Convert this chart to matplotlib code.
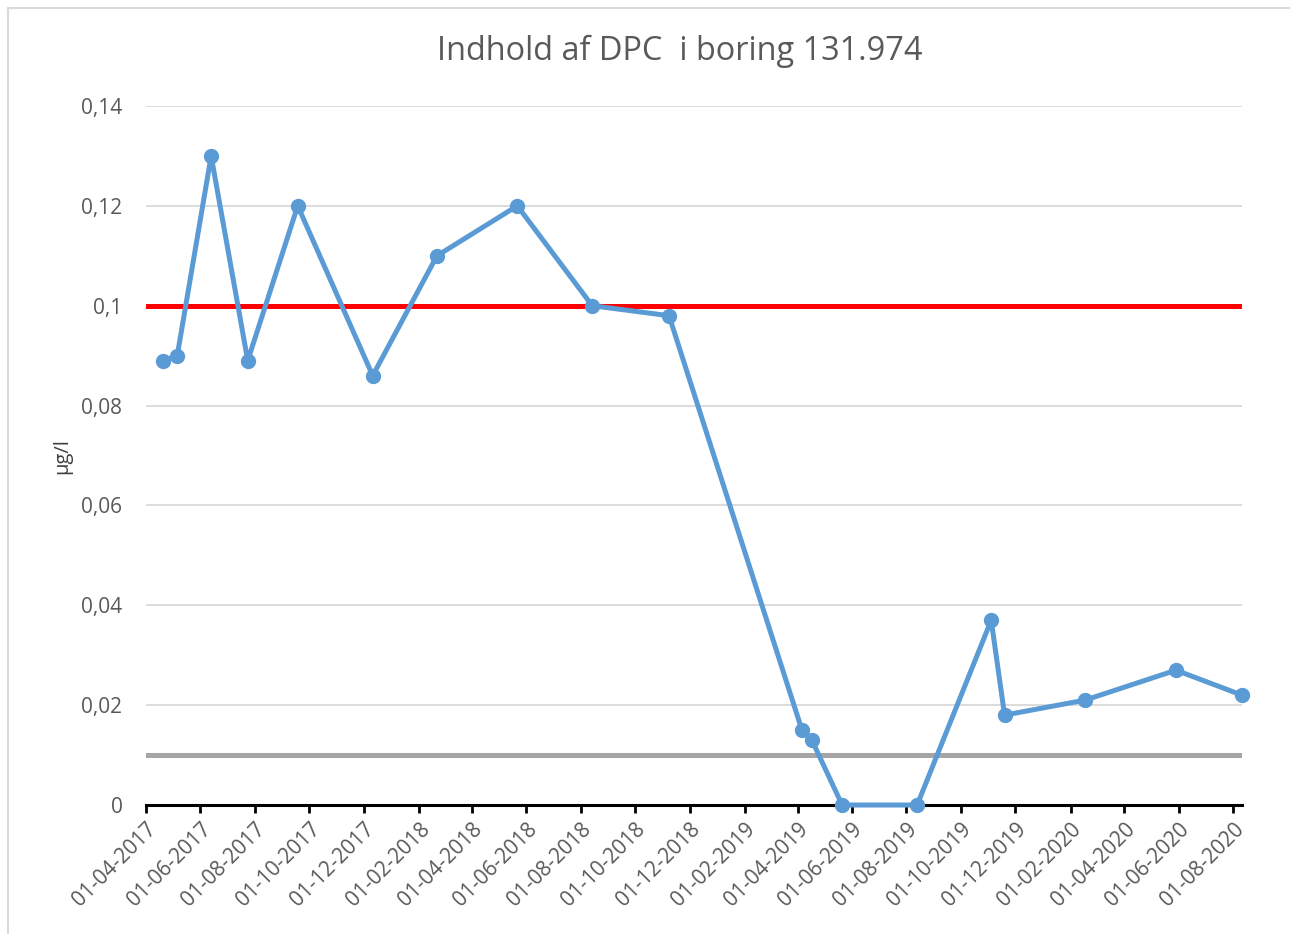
import matplotlib
matplotlib.use("Agg")
import matplotlib.pyplot as plt
import matplotlib.dates as mdates
import matplotlib.lines
import numpy as np
from datetime import date

# måledatoer og indhold (µg/l)
datoer = [date(2017, 4, 20), date(2017, 5, 6), date(2017, 6, 13), date(2017, 7, 24),
          date(2017, 9, 18), date(2017, 12, 11), date(2018, 2, 21), date(2018, 5, 22),
          date(2018, 8, 14), date(2018, 11, 8), date(2019, 4, 6), date(2019, 4, 17),
          date(2019, 5, 21), date(2019, 8, 13), date(2019, 11, 4), date(2019, 11, 19),
          date(2020, 2, 17), date(2020, 5, 29), date(2020, 8, 11)]
indhold = [0.089, 0.09, 0.13, 0.089, 0.12, 0.086, 0.11, 0.12, 0.1, 0.098,
           0.015, 0.013, 0.0, 0.0, 0.037, 0.018, 0.021, 0.027, 0.022]

graensevaerdi = 0.1
detektionsgraense = 0.01

x_start = date(2017, 4, 1)
x_slut = date(2020, 8, 11)

plt.rcParams['font.family'] = ['Open Sans', 'DejaVu Sans']

fig = plt.figure(figsize=(12.9, 9.34), dpi=100)
ax = fig.add_axes([146 / 1290, 1 - 805 / 934, (1242 - 146) / 1290, (805 - 106) / 934])

# ramme om diagrammet (kun venstre og top er synlige)
x0 = 7.5 / 1290
y0 = 1 - 7.5 / 934
fig.lines.append(matplotlib.lines.Line2D([x0, x0], [0, y0], transform=fig.transFigure,
                                         color='#d9d9d9', linewidth=1.5))
fig.lines.append(matplotlib.lines.Line2D([x0, 1], [y0, y0], transform=fig.transFigure,
                                         color='#d9d9d9', linewidth=1.5))

ax.axhline(graensevaerdi, color='#ff0000', linewidth=3.6, zorder=2)
ax.axhline(detektionsgraense, color='#a5a5a5', linewidth=3.6, zorder=2)
ax.plot(datoer, indhold, color='#5b9bd5', linewidth=3.6, marker='o',
        markersize=10, zorder=3, clip_on=False)

ax.set_xlim(x_start, x_slut)
ax.set_ylim(0, 0.14)
ax.set_yticks(np.arange(0, 0.141, 0.02))
ax.set_yticklabels(['0', '0,02', '0,04', '0,06', '0,08', '0,1', '0,12', '0,14'])
ax.yaxis.grid(True, color='#d9d9d9', linewidth=1.3)
ax.set_axisbelow(True)

ax.xaxis.set_major_locator(mdates.MonthLocator(bymonth=[2, 4, 6, 8, 10, 12]))
ax.xaxis.set_major_formatter(mdates.DateFormatter('%d-%m-%Y'))
plt.setp(ax.get_xticklabels(), rotation=45, ha='right', rotation_mode='anchor')

for side in ['top', 'right', 'left']:
    ax.spines[side].set_visible(False)
ax.spines['bottom'].set_color('black')
ax.spines['bottom'].set_linewidth(2.2)
ax.spines['bottom'].set_zorder(2.5)

ax.tick_params(axis='x', direction='out', length=6, width=2, color='black',
               labelsize=15, labelcolor='#595959', pad=4)
ax.tick_params(axis='y', length=0, labelsize=15, labelcolor='#595959', pad=17)

fig.text(62 / 1290, 1 - 456 / 934, 'µg/l', rotation=90, fontsize=14.5,
         color='#404040', ha='center', va='center')
fig.text(680 / 1290, 1 - 51 / 934, 'Indhold af DPC  i boring 131.974',
         fontsize=23.4, color='#595959', ha='center', va='center')

fig.savefig('out.png', dpi=100)
